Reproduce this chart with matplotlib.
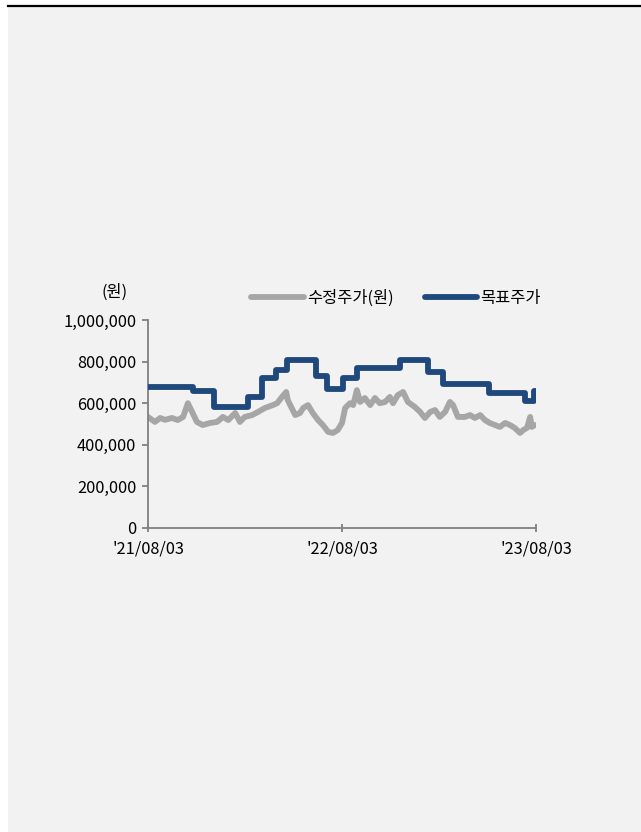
import matplotlib
matplotlib.use("Agg")
import matplotlib.pyplot as plt
from matplotlib.patches import Rectangle
from matplotlib.lines import Line2D
import pandas as pd

plt.rcParams['font.family'] = ['Noto Sans CJK KR', 'DejaVu Sans']

price_dates = [
    "2021-08-03", "2021-08-16", "2021-08-26", "2021-09-04", "2021-09-17", "2021-09-28",
    "2021-10-08", "2021-10-17", "2021-10-25", "2021-11-03", "2021-11-14", "2021-11-28",
    "2021-12-11", "2021-12-22", "2022-01-01", "2022-01-14", "2022-01-23", "2022-02-01",
    "2022-02-15", "2022-02-26", "2022-03-11", "2022-03-26", "2022-04-03", "2022-04-12",
    "2022-04-20", "2022-04-23", "2022-05-07", "2022-05-16", "2022-05-22", "2022-05-31",
    "2022-06-09", "2022-06-19", "2022-06-28", "2022-07-08", "2022-07-17", "2022-07-26",
    "2022-08-03", "2022-08-09", "2022-08-18", "2022-08-24", "2022-08-31", "2022-09-06",
    "2022-09-15", "2022-09-25", "2022-10-04", "2022-10-13", "2022-10-23", "2022-11-01",
    "2022-11-07", "2022-11-16", "2022-11-26", "2022-12-05", "2022-12-18", "2022-12-28",
    "2023-01-06", "2023-01-16", "2023-01-25", "2023-02-03", "2023-02-13", "2023-02-22",
    "2023-02-28", "2023-03-09", "2023-03-22", "2023-04-01", "2023-04-10", "2023-04-20",
    "2023-04-29", "2023-05-08", "2023-05-18", "2023-05-27", "2023-06-06", "2023-06-15",
    "2023-06-24", "2023-07-04", "2023-07-10", "2023-07-17", "2023-07-23", "2023-07-26",
    "2023-08-01",
]
price_values = [
    534000, 510000, 529000, 520000, 529000, 519000,
    534000, 600000, 558000, 510000, 495000, 505000,
    510000, 534000, 519000, 553000, 510000, 534000,
    543000, 558000, 577000, 591000, 600000, 630000,
    654000, 615000, 543000, 553000, 577000, 591000,
    553000, 519000, 495000, 462000, 457000, 471000,
    505000, 577000, 600000, 591000, 663000, 606000,
    625000, 591000, 625000, 600000, 606000, 630000,
    600000, 639000, 654000, 606000, 582000, 558000,
    529000, 558000, 567000, 534000, 558000, 606000,
    591000, 534000, 534000, 543000, 529000, 543000,
    519000, 505000, 495000, 486000, 505000, 495000,
    481000, 457000, 471000, 481000, 534000, 486000,
    495000,
]

target_dates = [
    "2021-08-03", "2021-10-27", "2021-12-05", "2022-02-07", "2022-03-05", "2022-04-01",
    "2022-04-22", "2022-06-15", "2022-07-06", "2022-08-05", "2022-08-31", "2022-11-20",
    "2023-01-12", "2023-02-09", "2023-05-07", "2023-07-13", "2023-07-30", "2023-08-03",
]
target_values = [
    680000, 660000, 580000, 630000, 720000, 760000,
    810000, 730000, 670000, 720000, 770000, 810000,
    750000, 690000, 650000, 610000, 660000, 660000,
]

tick_dates = ["2021-08-03", "2022-08-03", "2023-08-03"]
tick_labels = ["'21/08/03", "'22/08/03", "'23/08/03"]
y_ticks = [0, 200000, 400000, 600000, 800000, 1000000]

FS = 11.8
W, H = 641, 832
fig = plt.figure(figsize=(W / 100, H / 100), dpi=100)
fig.patch.set_facecolor('white')
fig.patches.append(Rectangle((8 / W, 0), 1 - 8 / W, 1 - 7 / H, transform=fig.transFigure,
                             facecolor='#f2f2f2', edgecolor='none', zorder=-10))
fig.lines.append(Line2D([8 / W, 1], [1 - 6 / H, 1 - 6 / H], transform=fig.transFigure,
                        color='black', linewidth=1.6, zorder=-5))

ax = fig.add_axes([148 / W, 1 - 528 / H, (536 - 148) / W, (528 - 320) / H])
ax.set_zorder(5)
ax.set_facecolor('none')

pd_price = pd.to_datetime(price_dates)
pd_target = pd.to_datetime(target_dates)

ax.plot(pd_price, price_values, color='#a6a6a6', linewidth=4.2, solid_capstyle='round',
        solid_joinstyle='round', label='수정주가(원)', zorder=2)
ax.plot(pd_target, target_values, color='#1f497d', linewidth=4.2, drawstyle='steps-post',
        solid_capstyle='round', solid_joinstyle='round', label='목표주가', zorder=3)

ax.set_xlim(pd.Timestamp(tick_dates[0]), pd.Timestamp(tick_dates[-1]))
ax.set_ylim(0, 1000000)
ax.set_yticks(y_ticks)
ax.set_yticklabels([f"{v:,}" for v in y_ticks])
ax.set_xticks(pd.to_datetime(tick_dates))
ax.set_xticklabels(tick_labels)

for s in ['top', 'right']:
    ax.spines[s].set_visible(False)
for s in ['left', 'bottom']:
    ax.spines[s].set_color('#808080')
    ax.spines[s].set_linewidth(1.3)

ax.tick_params(axis='y', direction='out', length=4.5, width=1.3, color='#808080',
               labelsize=FS, labelcolor='black', pad=4)
ax.tick_params(axis='x', direction='inout', length=6, width=1.3, color='#808080',
               labelsize=FS, labelcolor='black', pad=6)

ax.text((115 - 148) / 388, (528 - 292) / 208, '(원)', transform=ax.transAxes, fontsize=FS,
        ha='center', va='center')

ax.legend(loc='center', bbox_to_anchor=((396 - 148) / (536 - 148), (528 - 298) / (528 - 320)),
          ncol=2, frameon=False, fontsize=FS, handlelength=3.2, handletextpad=0.2,
          columnspacing=1.9, borderaxespad=0)

fig.savefig('out.png', dpi=100, facecolor=fig.get_facecolor())
